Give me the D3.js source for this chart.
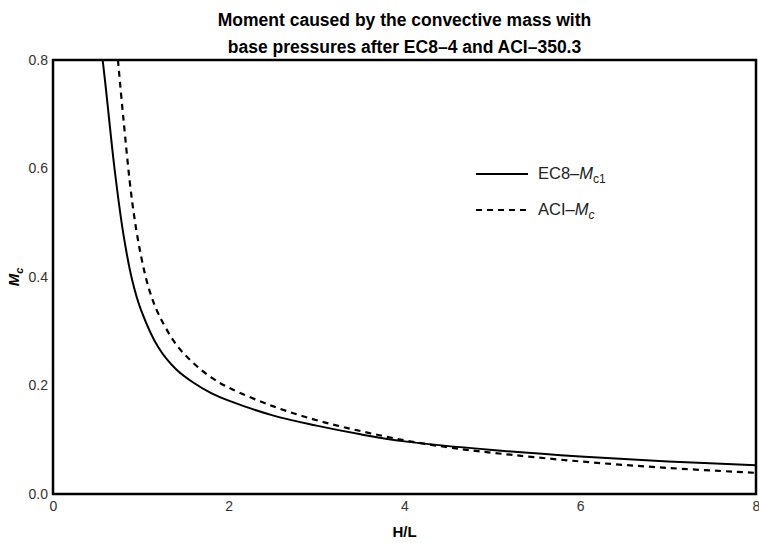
<!DOCTYPE html>
<html>
<head>
<meta charset="utf-8">
<script src="https://cdn.jsdelivr.net/npm/d3@7"></script>
<style>
  body { margin: 0; background: #fff; }
  svg { font-family: "Liberation Sans", Arial, sans-serif; }
  .tick text { font-size: 14px; fill: #333; }
</style>
</head>
<body>
<div id="wrapper"></div>
<script>
// values
const ec8X = [0.565, 0.6, 0.7, 0.8, 0.9, 1.0, 1.2, 1.4, 1.6, 1.8, 2.0, 2.5, 3.0, 3.5, 4.0, 5.0, 6.0, 7.0, 8.0];
const ec8Y = [0.8, 0.75, 0.6, 0.48, 0.395, 0.34, 0.27, 0.23, 0.205, 0.186, 0.172, 0.145, 0.126, 0.11, 0.097, 0.081, 0.069, 0.060, 0.053];

const aciX = [0.739, 0.8, 0.9, 1.0, 1.1, 1.2, 1.4, 1.6, 1.8, 2.0, 2.5, 3.0, 3.5, 4.0, 4.5, 5.0, 6.0, 7.0, 8.0];
const aciY = [0.8, 0.694, 0.54, 0.44, 0.374, 0.332, 0.276, 0.241, 0.215, 0.196, 0.162, 0.136, 0.116, 0.099, 0.086, 0.076, 0.060, 0.048, 0.039];

const xTicks = [0, 2, 4, 6, 8];
const yTicks = [0, 0.2, 0.4, 0.6, 0.8];

let dimensions = {
    width: 759,
    height: 543,
    margin: { top: 60, right: 3, bottom: 49, left: 53 }
};
dimensions.boundW = dimensions.width - dimensions.margin.left - dimensions.margin.right;
dimensions.boundH = dimensions.height - dimensions.margin.top - dimensions.margin.bottom;

const svg = d3.select("#wrapper").append("svg")
    .attr("width", dimensions.width)
    .attr("height", dimensions.height);

const bounds = svg.append("g")
    .attr("transform", `translate(${dimensions.margin.left},${dimensions.margin.top})`);

// scales
const xScale = d3.scaleLinear().domain([0, 8]).range([0, dimensions.boundW]);
const yScale = d3.scaleLinear().domain([0, 0.8]).range([dimensions.boundH, 0]);

svg.append("defs").append("clipPath").attr("id", "plotClip")
    .append("rect")
    .attr("width", dimensions.boundW)
    .attr("height", dimensions.boundH);

// curves
const lineGen = d3.line()
    .curve(d3.curveCatmullRom.alpha(0.5))
    .x(d => xScale(d[0]))
    .y(d => yScale(d[1]));

const ec8 = ec8X.map((x, i) => [x, ec8Y[i]]);
const aci = aciX.map((x, i) => [x, aciY[i]]);

const plot = bounds.append("g").attr("clip-path", "url(#plotClip)");
plot.append("path")
    .attr("d", lineGen(ec8))
    .attr("fill", "none")
    .attr("stroke", "#000")
    .attr("stroke-width", 2);
plot.append("path")
    .attr("d", lineGen(aci))
    .attr("fill", "none")
    .attr("stroke", "#000")
    .attr("stroke-width", 2.2)
    .attr("stroke-dasharray", "6,5");

// axes
const xAxis = bounds.append("g")
    .attr("transform", `translate(0,${dimensions.boundH})`)
    .call(d3.axisBottom(xScale).tickValues(xTicks).tickSize(0).tickPadding(7).tickFormat(d3.format("d")));
xAxis.select(".domain").remove();

const yAxis = bounds.append("g")
    .call(d3.axisLeft(yScale).tickValues(yTicks).tickSize(0).tickPadding(5).tickFormat(d3.format(".1f")));
yAxis.select(".domain").remove();

// frame
bounds.append("rect")
    .attr("width", dimensions.boundW)
    .attr("height", dimensions.boundH)
    .attr("fill", "none")
    .attr("stroke", "#000")
    .attr("stroke-width", 2.5);

// title
const cx = dimensions.margin.left + dimensions.boundW / 2;
const title = svg.append("text")
    .attr("text-anchor", "middle")
    .style("font-size", "17.5px")
    .style("font-weight", "bold");
title.append("tspan").attr("x", cx).attr("y", 26).text("Moment caused by the convective mass with");
title.append("tspan").attr("x", cx).attr("y", 53).text("base pressures after EC8\u20134 and ACI\u2013350.3");

// axis labels
svg.append("text")
    .attr("x", cx)
    .attr("y", 537)
    .attr("text-anchor", "middle")
    .style("font-size", "15px")
    .style("font-weight", "bold")
    .text("H/L");

const yLab = svg.append("text")
    .attr("transform", `translate(19,${dimensions.margin.top + dimensions.boundH / 2}) rotate(-90)`)
    .attr("text-anchor", "middle")
    .style("font-size", "15px")
    .style("font-weight", "bold")
    .style("font-style", "italic");
yLab.append("tspan").text("M");
yLab.append("tspan").attr("dy", 4).style("font-size", "11px").text("c");

// legend
const legend = svg.append("g");
const legendItems = [
    { y: 174, dash: null, name: "EC8\u2013", sub: "c1", subItalic: false },
    { y: 210, dash: "6,5", name: "ACI\u2013", sub: "c", subItalic: true }
];
legendItems.forEach(item => {
    legend.append("line")
        .attr("x1", 476).attr("x2", 528)
        .attr("y1", item.y).attr("y2", item.y)
        .attr("stroke", "#000")
        .attr("stroke-width", 2)
        .attr("stroke-dasharray", item.dash);
    const t = legend.append("text")
        .attr("x", 538)
        .attr("y", item.y + 5)
        .style("font-size", "16.5px")
        .style("fill", "#222");
    t.append("tspan").text(item.name);
    t.append("tspan").style("font-style", "italic").text("M");
    t.append("tspan").attr("dy", 4).style("font-size", "12px")
        .style("font-style", item.subItalic ? "italic" : "normal")
        .text(item.sub);
});
</script>
</body>
</html>
